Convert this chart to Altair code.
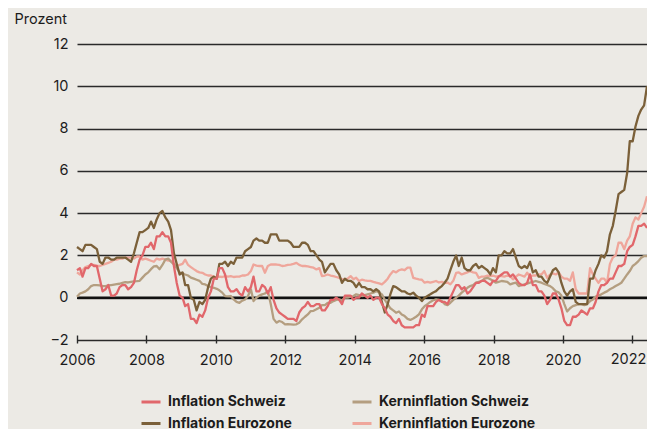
import altair as alt
import pandas as pd

# ---------------- data (monthly, Jan 2006 - Sep 2022) ----------------
serien = ["Inflation Schweiz", "Inflation Eurozone", "Kerninflation Schweiz", "Kerninflation Eurozone"]
farben = ["#E1676B", "#7B6039", "#B49E80", "#EFA69B"]

inflation_schweiz = [
    1.3, 1.4, 1.0, 1.4, 1.4, 1.6, 1.5, 1.5, 0.9, 0.3, 0.4, 0.6,
    0.1, 0.1, 0.2, 0.5, 0.6, 0.6, 0.4, 0.5, 0.7, 1.3, 1.8, 2.0,
    2.4, 2.4, 2.6, 2.3, 2.9, 2.9, 3.1, 2.9, 2.9, 2.6, 1.5, 0.7,
    0.1, 0.0, -0.4, -0.3, -1.0, -1.0, -1.2, -0.8, -0.9, -0.6, 0.0, 0.3,
    0.9, 0.9, 1.4, 1.4, 1.1, 0.5, 0.3, 0.3, 0.4, 0.2, 0.1, 0.5,
    0.3, 0.5, 1.0, 0.3, 0.3, 0.6, 0.5, 0.2, 0.5, -0.1, -0.5, -0.7,
    -0.8, -0.9, -1.0, -1.0, -1.0, -1.1, -0.7, -0.5, -0.4, -0.2, -0.4, -0.4,
    -0.3, -0.3, -0.6, -0.6, -0.4, -0.1, -0.1, 0.0, -0.1, -0.3, 0.1, 0.1,
    0.1, -0.1, 0.0, 0.0, 0.2, 0.1, 0.0, 0.1, -0.1, 0.0, 0.0, -0.3,
    -0.5, -0.8, -0.9, -1.1, -1.2, -1.0, -1.3, -1.4, -1.4, -1.4, -1.4, -1.3,
    -1.3, -0.8, -0.9, -0.4, -0.4, -0.4, -0.2, -0.1, -0.2, -0.2, -0.3, 0.0,
    0.3, 0.6, 0.6, 0.4, 0.5, 0.2, 0.3, 0.5, 0.7, 0.7, 0.8, 0.8,
    0.7, 0.6, 0.8, 0.8, 1.0, 1.1, 1.2, 1.2, 1.0, 1.1, 0.9, 0.7,
    0.6, 0.6, 0.7, 1.1, 0.6, 0.6, 0.3, 0.3, 0.1, -0.3, -0.1, 0.2,
    0.2, -0.1, -0.5, -1.1, -1.3, -1.3, -0.9, -0.9, -0.8, -0.6, -0.7, -0.8,
    -0.5, -0.5, -0.2, 0.3, 0.6, 0.6, 0.7, 0.9, 0.9, 1.2, 1.5, 1.5,
    1.6, 2.2, 2.4, 2.5, 2.9, 3.4, 3.4, 3.5, 3.3,
]

kerninflation_schweiz = [
    0.05, 0.2, 0.24, 0.3, 0.4, 0.55, 0.6, 0.6, 0.58, 0.55, 0.55, 0.58,
    0.6, 0.62, 0.64, 0.66, 0.7, 0.74, 0.72, 0.75, 0.77, 0.78, 0.8, 0.95,
    1.1, 1.2, 1.35, 1.48, 1.5, 1.35, 1.55, 1.8, 1.85, 1.7, 1.57, 1.4,
    1.2, 1.15, 1.1, 1.05, 0.95, 0.9, 0.85, 0.8, 0.65, 0.63, 0.55, 0.5,
    0.47, 0.42, 0.35, 0.24, 0.08, 0.06, 0.08, -0.08, -0.2, -0.24, -0.14, -0.08,
    0.08, 0.4, -0.16, 0.0, 0.1, 0.16, 0.2, 0.31, -0.3, -1.0, -1.18, -1.1,
    -1.15, -1.26, -1.25, -1.26, -1.27, -1.26, -1.18, -1.02, -0.9, -0.79, -0.63, -0.62,
    -0.55, -0.47, -0.35, -0.35, -0.24, -0.24, -0.16, -0.1, -0.08, -0.12, 0.0, 0.0,
    0.05, 0.08, 0.16, 0.12, 0.08, 0.12, 0.16, 0.2, 0.24, 0.31, 0.25, 0.16,
    -0.1, -0.3, -0.5, -0.6, -0.71, -0.65, -0.79, -0.87, -1.0, -1.05, -0.98, -0.9,
    -0.79, -0.55, -0.4, -0.3, -0.2, -0.12, -0.08, -0.1, -0.16, -0.3, -0.35, -0.24,
    -0.1, 0.0, 0.1, 0.24, 0.35, 0.47, 0.55, 0.6, 0.71, 0.75, 0.79, 0.9,
    0.94, 0.87, 0.8, 0.71, 0.75, 0.79, 0.77, 0.75, 0.63, 0.68, 0.71, 0.55,
    0.6, 0.63, 0.67, 0.71, 0.75, 0.79, 0.75, 0.71, 0.65, 0.6, 0.55, 0.45,
    0.3, 0.25, 0.1, -0.3, -0.65, -0.5, -0.4, -0.35, -0.3, -0.3, -0.35, -0.3,
    -0.16, -0.08, 0.05, 0.1, 0.16, 0.24, 0.3, 0.4, 0.47, 0.55, 0.63, 0.71,
    0.9, 1.1, 1.26, 1.5, 1.6, 1.73, 1.89, 1.97, 1.97,
]

inflation_eurozone = [
    2.4, 2.3, 2.2, 2.5, 2.5, 2.5, 2.4, 2.3, 1.7, 1.6, 1.9, 1.9,
    1.8, 1.8, 1.9, 1.9, 1.9, 1.9, 1.8, 1.7, 2.1, 2.6, 3.1, 3.1,
    3.2, 3.3, 3.6, 3.3, 3.7, 4.0, 4.1, 3.8, 3.6, 3.2, 2.1, 1.6,
    1.1, 1.2, 0.6, 0.6, 0.0, -0.1, -0.6, -0.2, -0.3, -0.1, 0.5, 0.9,
    1.0, 0.9, 1.6, 1.6, 1.7, 1.5, 1.7, 1.6, 1.9, 1.9, 1.9, 2.2,
    2.3, 2.4, 2.7, 2.8, 2.7, 2.7, 2.6, 2.6, 3.0, 3.0, 3.0, 2.7,
    2.7, 2.7, 2.7, 2.6, 2.4, 2.4, 2.4, 2.6, 2.6, 2.5, 2.2, 2.2,
    2.0, 1.8, 1.7, 1.2, 1.4, 1.6, 1.6, 1.3, 1.1, 0.7, 0.9, 0.8,
    0.8, 0.7, 0.5, 0.7, 0.5, 0.5, 0.4, 0.4, 0.3, 0.4, 0.3, -0.2,
    -0.7, -0.3, 0.16, 0.55, 0.5, 0.4, 0.3, 0.3, 0.2, 0.16, 0.24, 0.1,
    0.0, -0.16, 0.0, 0.08, 0.16, 0.25, 0.31, 0.45, 0.55, 0.71, 0.9, 1.3,
    1.7, 2.0, 1.5, 1.9, 1.4, 1.3, 1.3, 1.5, 1.6, 1.4, 1.5, 1.4,
    1.3, 1.1, 1.4, 1.2, 2.0, 2.0, 2.2, 2.1, 2.1, 2.3, 1.9, 1.5,
    1.4, 1.5, 1.4, 1.7, 1.2, 1.3, 1.0, 1.0, 0.8, 0.7, 1.0, 1.3,
    1.4, 1.2, 0.7, 0.3, 0.1, 0.3, 0.4, -0.2, -0.3, -0.3, -0.3, -0.3,
    0.9, 0.9, 1.3, 1.6, 2.0, 1.9, 2.2, 3.0, 3.4, 4.1, 4.9, 5.0,
    5.1, 5.9, 7.4, 7.4, 8.1, 8.6, 8.9, 9.1, 10.0,
]

kerninflation_eurozone = [
    1.2, 1.1, 1.3, 1.45, 1.5, 1.55, 1.55, 1.5, 1.5, 1.55, 1.6, 1.65,
    1.7, 1.8, 1.8, 1.85, 1.85, 1.9, 1.9, 1.9, 1.85, 1.95, 1.95, 1.8,
    1.85, 1.8, 1.75, 1.7, 1.85, 1.8, 1.85, 1.8, 1.75, 1.75, 1.6, 1.5,
    1.55, 1.6, 1.8, 1.55, 1.45, 1.35, 1.26, 1.2, 1.18, 1.1, 1.05, 1.05,
    1.0, 0.95, 1.0, 0.98, 1.02, 1.0, 1.02, 0.98, 1.0, 1.0, 1.05, 1.05,
    1.1, 1.26, 1.57, 1.52, 1.5, 1.5, 1.18, 1.5, 1.57, 1.57, 1.57, 1.55,
    1.5, 1.52, 1.55, 1.57, 1.6, 1.65, 1.55, 1.5, 1.5, 1.48, 1.45, 1.42,
    1.34, 1.4, 1.02, 1.05, 1.1, 1.05, 1.02, 0.98, 0.94, 0.87, 0.87, 0.9,
    1.02, 0.87, 0.95, 0.79, 0.85, 0.82, 0.8, 0.8, 0.75, 0.71, 0.68, 0.63,
    0.75, 0.9, 1.1, 1.26, 1.2, 1.3, 1.34, 1.3, 1.42, 1.42, 0.94, 0.9,
    0.87, 0.85, 0.71, 0.75, 0.71, 0.75, 0.79, 0.72, 0.75, 0.7, 0.72, 0.63,
    0.8, 1.18, 1.2, 1.1, 1.15, 1.2, 1.26, 1.2, 1.18, 0.94, 1.0, 1.0,
    1.05, 1.02, 1.05, 1.0, 1.02, 1.02, 1.0, 1.05, 1.02, 0.87, 1.0, 1.1,
    1.05, 1.0, 1.18, 1.0, 1.05, 1.05, 1.1, 1.1, 1.26, 0.94, 1.1, 1.15,
    1.1, 1.2, 1.0, 0.9, 0.9, 0.8, 1.2, 0.4, 0.2, 0.2, 0.2, 0.2,
    1.4, 1.1, 0.9, 0.7, 0.9, 0.9, 0.7, 1.6, 1.9, 2.0, 2.6, 2.6,
    2.3, 2.7, 2.9, 3.5, 3.8, 3.7, 4.0, 4.3, 4.8,
]

jahre = [2006, 2008, 2010, 2012, 2014, 2016, 2018, 2020, 2022]
y_werte = [-2, 0, 2, 4, 6, 8, 10, 12]

# ---------------- tables ----------------
monate = pd.date_range("2006-01-01", periods=len(inflation_schweiz), freq="MS")
werte_map = {
    "Inflation Schweiz": inflation_schweiz,
    "Kerninflation Schweiz": kerninflation_schweiz,
    "Inflation Eurozone": inflation_eurozone,
    "Kerninflation Eurozone": kerninflation_eurozone,
}
rows = []
for name in serien:
    for d, v in zip(monate, werte_map[name]):
        rows.append({"Datum": d.strftime("%Y-%m-%d"), "Serie": name, "Wert": v})
df = pd.DataFrame(rows)

ticks_df = pd.DataFrame({"Jahr": jahre, "Basis": [-2] * len(jahre),
                         "Label": [str(j) for j in jahre]})
null_df = pd.DataFrame({"Null": [0]})

TXT = "#1c1c1c"
LINE = "#2a2a2a"
FS = 14.5

y_scale = alt.Scale(domain=[-2, 12], nice=False, zero=False)
y_axis = alt.Axis(
    values=y_werte, title="Prozent", titleAngle=0, titleAlign="left",
    titleBaseline="middle", titleX=-63, titleY=-25, titleFontSize=FS,
    titleFontWeight="normal", titleColor=TXT, labelFontSize=FS,
    labelColor=TXT, labelPadding=9, ticks=False, tickSize=0, domain=False,
    grid=True, gridColor=LINE, gridWidth=1.3,
)

color_scale = alt.Scale(domain=serien, range=farben)
legend = alt.Legend(
    title=None, orient="none", legendX=63, legendY=347, columns=2,
    symbolType="stroke", symbolStrokeWidth=3, symbolSize=361,
    labelFontSize=14, labelFontWeight="bold", labelColor=TXT,
    columnPadding=54, rowPadding=3.5, labelOffset=6,
)

x_line = alt.X(
    "Datum:T",
    scale=alt.Scale(domain=[alt.DateTime(year=2006, month=1, date=1),
                            alt.DateTime(year=2022, month=9, date=1)]),
    axis=None,
)

zero_rule = alt.Chart(null_df).mark_rule(color="#111111", strokeWidth=2.6).encode(
    y=alt.Y("Null:Q", scale=y_scale, axis=y_axis)
)

draw_order = ["Kerninflation Eurozone", "Kerninflation Schweiz", "Inflation Eurozone", "Inflation Schweiz"]
line_layers = []
for s in draw_order:
    line_layers.append(
        alt.Chart(df)
        .transform_filter(alt.datum.Serie == s)
        .mark_line(strokeWidth=2.3, strokeJoin="round")
        .encode(
            x=x_line,
            y=alt.Y("Wert:Q", scale=y_scale, axis=y_axis),
            color=alt.Color("Serie:N", scale=color_scale, legend=legend),
        )
    )

x_year_scale = alt.Scale(domain=[2006, 2022.42], nice=False, zero=False)

# year axis: ticks cross the -2 grid line (axis lifted by 5 px, ticks 8 px long);
# the 2022 label is drawn by the text layer so it stays inside the right edge
x_year_axis = alt.Axis(
    values=jahre, format="d", title=None, labelFontSize=FS, labelColor=TXT,
    offset=-5, ticks=True, tickSize=8, tickWidth=1.4, tickColor=LINE,
    labelPadding=10, domain=False, grid=False,
    labelOverlap=False, labelFlush=False, labelBound=False,
    labelExpr="datum.value == 2022 ? '' : datum.label",
)

last_label = alt.Chart(ticks_df).transform_filter(alt.datum.Jahr == 2022).mark_text(
    align="right", baseline="top", dx=14, dy=13, fontSize=FS, color=TXT
).encode(
    x=alt.X("Jahr:Q", scale=x_year_scale, axis=x_year_axis),
    y=alt.Y("Basis:Q", scale=y_scale, axis=y_axis),
    text="Label:N",
)

chart = (
    alt.layer(zero_rule, *line_layers, last_label)
    .resolve_scale(x="independent")
    .properties(
        width=570, height=296,
        autosize=alt.AutoSizeParams(type="none"),
        padding={"left": 69, "top": 36, "right": 0, "bottom": 93},
        background="#ECEAE5",
    )
    .configure(font="Inter")
    .configure_view(stroke=None)
)

chart.save("out.html", embed_options={"renderer": "svg", "actions": False})
